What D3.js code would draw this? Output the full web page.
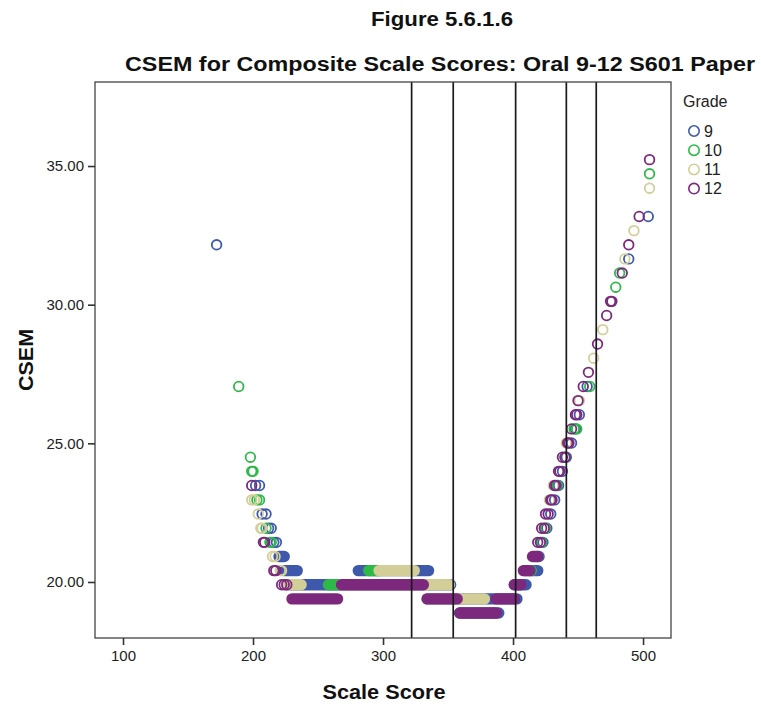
<!DOCTYPE html>
<html><head><meta charset="utf-8">
<script src="https://cdn.jsdelivr.net/npm/d3@7"></script>
<style>body{margin:0;background:#fff} svg{display:block}</style>
</head><body><svg id="c" width="761" height="707"></svg>
<script>
const grades = ["9", "10", "11", "12"];
const gradeColors = ["#3E58AC", "#2EB848", "#D3CE97", "#7C287D"];
const yTicks = [20, 25, 30, 35];
const xTicks = [100, 200, 300, 400, 500];
const cutScores = [322, 354, 402, 441, 464];

// dense bands of cases: [CSEM, first scale score, last scale score]
const runs9 = [[20.92,220,224],[20.41,224,234],[19.90,226,352],[20.41,281,335],[19.39,334,403],[18.88,359,389],[19.90,401,410],[20.41,409,419]];
const runs10 = [[19.90,258,268],[20.41,289,297]];
const runs11 = [[19.90,226,237],[19.90,268,351],[20.41,297,324],[19.39,334,378]];
const runs12 = [[19.90,268,331],[19.39,230,265],[19.39,334,357],[19.39,387,401],[18.88,359,387],[19.90,401,406],[20.41,408,413],[20.92,415,419]];

// individual cases: [scale score, CSEM]
const pts9 = [[172,32.16],[202,23.48],[205,23.48],[207,22.45],[210,22.45],[212,21.94],[214,21.94],[216,21.43],[218,21.43],
  [420,20.92],[423,21.43],[426,21.94],[429,22.45],[432,22.96],[435,23.48],[438,23.99],[441,24.50],[445,25.01],[448,25.52],[451,26.03],[457,27.05],[489,31.65],[504,33.18]];
const pts10 = [[189,27.05],[198,24.50],[199,23.99],[200,23.99],[203,22.96],[205,22.96],[210,21.94],[213,21.43],[214,21.43],
  [414,20.41],[419,20.92],[422,21.43],[425,21.94],[434,23.48],[440,24.50],[447,25.52],[449,25.52],[459,27.05],[479,30.63],[482,31.14],[505,34.72]];
const pts11 = [[199,22.96],[201,22.96],[204,22.45],[206,21.94],[207,21.94],[215,20.92],[217,20.92],[221,20.41],[222,20.41],
  [428,22.96],[431,23.48],[441,25.01],[451,26.54],[462,28.07],[469,29.10],[486,31.65],[493,32.67],[505,34.20]];
const pts12 = [[199,23.48],[208,21.43],[209,21.43],[216,20.41],[217.5,20.41],[222,19.90],[224,19.90],[226,19.90],
  [419,21.43],[421,21.43],[422,21.94],[424,21.94],[425,22.45],[427,22.45],[429,22.96],[430,22.96],[432,23.48],[433,23.48],
  [435,23.99],[436,23.99],[438,24.50],[440,24.50],[442,25.01],[443,25.01],[445,25.52],[448,26.03],[449,26.03],[450,26.54],
  [454,27.05],[458,27.56],[465,28.58],[472,29.61],[475,30.12],[476,30.12],[484,31.14],[489,32.16],[497,33.18],[505,35.23]];

const runsByGrade = [runs9, runs10, runs11, runs12];
const ptsByGrade = [pts9, pts10, pts11, pts12];

const svg = d3.select("#c");
const L = 95, R = 671, T = 82, B = 638;
const x = d3.scaleLinear().domain([78.46, 521.5]).range([L, R]);
const y = d3.scaleLinear().domain([17.98, 38.03]).range([B, T]);
const font = "'Liberation Sans', Arial, sans-serif";

svg.append("defs").append("clipPath").attr("id","clip")
  .append("rect").attr("x",L).attr("y",T).attr("width",R-L).attr("height",B-T);

// titles
svg.append("text").attr("x",442).attr("y",26).attr("text-anchor","middle")
  .attr("font-family",font).attr("font-weight","bold").attr("font-size",20)
  .attr("textLength",142).attr("lengthAdjust","spacingAndGlyphs").attr("fill","#111")
  .text("Figure 5.6.1.6");
svg.append("text").attr("x",440).attr("y",71).attr("text-anchor","middle")
  .attr("font-family",font).attr("font-weight","bold").attr("font-size",20)
  .attr("textLength",630).attr("lengthAdjust","spacingAndGlyphs").attr("fill","#111")
  .text("CSEM for Composite Scale Scores: Oral 9-12 S601 Paper");

// points
const plot = svg.append("g").attr("clip-path","url(#clip)");
const r = 4.8, sw = 1.8;
grades.forEach((g, i) => {
  const gg = plot.append("g").attr("class","grade-"+g);
  gg.selectAll("line.run").data(runsByGrade[i]).join("line").attr("class","run")
    .attr("x1", d => x(d[1])).attr("x2", d => x(d[2]))
    .attr("y1", d => y(d[0])).attr("y2", d => y(d[0]))
    .attr("stroke", gradeColors[i]).attr("stroke-width", 2*r+sw).attr("stroke-linecap","round");
  gg.selectAll("circle").data(ptsByGrade[i]).join("circle")
    .attr("cx", d => x(d[0])).attr("cy", d => y(d[1])).attr("r", r)
    .attr("fill","none").attr("stroke", gradeColors[i]).attr("stroke-width", sw);
});

// reference lines
svg.append("g").selectAll("line").data(cutScores).join("line")
  .attr("x1", d => x(d)).attr("x2", d => x(d)).attr("y1", T).attr("y2", B)
  .attr("stroke","#1a1a1a").attr("stroke-width",1.7);

// frame
svg.append("rect").attr("x",L).attr("y",T).attr("width",R-L).attr("height",B-T)
  .attr("fill","none").attr("stroke","#444").attr("stroke-width",1.3);

// axes
const yAxis = svg.append("g").attr("transform",`translate(${L},0)`)
  .call(d3.axisLeft(y).tickValues(yTicks).tickFormat(d3.format(".2f")).tickSize(7).tickPadding(4));
const xAxis = svg.append("g").attr("transform",`translate(0,${B})`)
  .call(d3.axisBottom(x).tickValues(xTicks).tickFormat(d3.format("d")).tickSize(7).tickPadding(5));
[yAxis, xAxis].forEach(a => {
  a.select(".domain").remove();
  a.selectAll(".tick line").attr("stroke","#333").attr("stroke-width",1.6);
  a.selectAll(".tick text").attr("font-family",font).attr("font-size",15).attr("fill","#222");
});

// axis titles
svg.append("text").attr("x",384).attr("y",699).attr("text-anchor","middle")
  .attr("font-family",font).attr("font-weight","bold").attr("font-size",20)
  .attr("textLength",123).attr("lengthAdjust","spacingAndGlyphs").attr("fill","#111")
  .text("Scale Score");
svg.append("text").attr("transform","translate(33,360) rotate(-90)").attr("text-anchor","middle")
  .attr("font-family",font).attr("font-weight","bold").attr("font-size",20)
  .attr("textLength",62).attr("lengthAdjust","spacingAndGlyphs").attr("fill","#111")
  .text("CSEM");

// legend
const leg = svg.append("g");
leg.append("text").attr("x",683).attr("y",107).attr("font-family",font).attr("font-size",16)
  .attr("fill","#222").text("Grade");
grades.forEach((g, i) => {
  const yy = 131 + i*19.2;
  leg.append("circle").attr("cx",694).attr("cy",yy).attr("r",5.2)
    .attr("fill","none").attr("stroke",gradeColors[i]).attr("stroke-width",1.6);
  leg.append("text").attr("x",704).attr("y",yy+5.5).attr("font-family",font).attr("font-size",16)
    .attr("fill","#222").text(g);
});
</script></body></html>
